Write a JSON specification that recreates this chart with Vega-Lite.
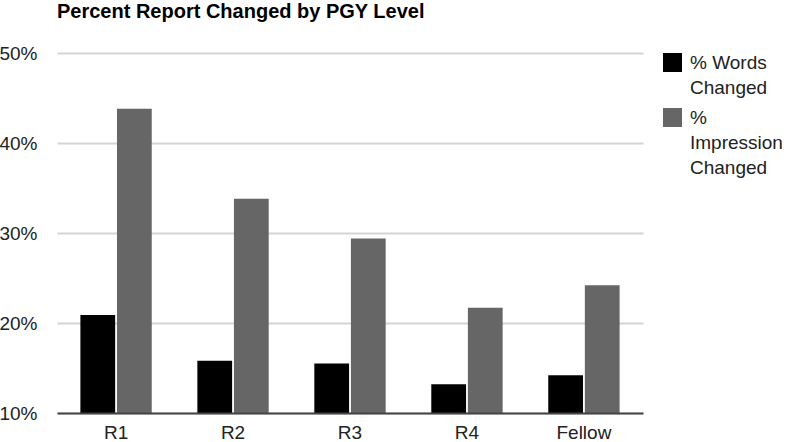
{
  "$schema": "https://vega.github.io/schema/vega-lite/v6.json",
  "autosize": "none",
  "padding": {"left": 57, "top": 53, "right": 145, "bottom": 29},
  "width": 586,
  "height": 360,
  "background": "white",
  "title": {
    "text": "Percent Report Changed by PGY Level",
    "anchor": "start",
    "frame": "group",
    "font": "Liberation Sans",
    "fontSize": 20,
    "fontWeight": "bold",
    "color": "#000000",
    "offset": 22
  },
  "data": {
    "values": [
      {"level": "R1", "series": "% Words Changed", "value": 0.209},
      {"level": "R1", "series": "% Impression Changed", "value": 0.438},
      {"level": "R2", "series": "% Words Changed", "value": 0.158},
      {"level": "R2", "series": "% Impression Changed", "value": 0.338},
      {"level": "R3", "series": "% Words Changed", "value": 0.155},
      {"level": "R3", "series": "% Impression Changed", "value": 0.294},
      {"level": "R4", "series": "% Words Changed", "value": 0.132},
      {"level": "R4", "series": "% Impression Changed", "value": 0.217},
      {"level": "Fellow", "series": "% Words Changed", "value": 0.142},
      {"level": "Fellow", "series": "% Impression Changed", "value": 0.242}
    ]
  },
  "mark": {"type": "bar", "clip": true},
  "encoding": {
    "x": {
      "field": "level",
      "type": "nominal",
      "sort": ["R1", "R2", "R3", "R4", "Fellow"],
      "scale": {"paddingInner": 0.39, "paddingOuter": 0.2},
      "axis": {
        "title": null,
        "labelAngle": 0,
        "ticks": false,
        "domainColor": "#444444",
        "domainWidth": 2,
        "labelFont": "Liberation Sans",
        "labelFontSize": 19,
        "labelColor": "#222222",
        "labelPadding": 10,
        "zindex": 1
      }
    },
    "xOffset": {
      "field": "series",
      "type": "nominal",
      "sort": ["% Words Changed", "% Impression Changed"],
      "scale": {"paddingInner": 0.05}
    },
    "y": {
      "field": "value",
      "type": "quantitative",
      "scale": {"domain": [0.1, 0.5], "nice": false, "zero": false},
      "axis": {
        "title": null,
        "values": [0.1, 0.2, 0.3, 0.4, 0.5],
        "format": ".0%",
        "domain": false,
        "ticks": false,
        "gridColor": "#d4d4d4",
        "gridWidth": 2,
        "labelFont": "Liberation Sans",
        "labelFontSize": 19,
        "labelColor": "#222222",
        "labelPadding": 20
      }
    },
    "color": {
      "field": "series",
      "type": "nominal",
      "sort": ["% Words Changed", "% Impression Changed"],
      "scale": {"range": ["#000000", "#666666"]},
      "legend": {
        "title": null,
        "orient": "right",
        "offset": 20,
        "padding": 0,
        "symbolType": "square",
        "symbolSize": 361,
        "symbolStrokeWidth": 0,
        "labelFont": "Liberation Sans",
        "labelFontSize": 19,
        "labelColor": "#222222",
        "labelOffset": 8,
        "labelLimit": 0,
        "labelBaseline": "middle",
        "labelExpr": "datum.label == '% Words Changed' ? ['% Words', 'Changed'] : ['%', 'Impression', 'Changed']",
        "rowPadding": 10,
        "encode": {"labels": {"update": {"lineHeight": {"value": 25}}}}
      }
    }
  },
  "config": {"view": {"stroke": null}}
}
